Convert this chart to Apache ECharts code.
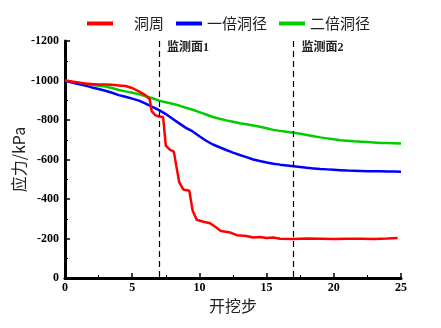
<!DOCTYPE html>
<html>
<head>
<meta charset="utf-8">
<script src="https://cdn.jsdelivr.net/npm/echarts@6/dist/echarts.min.js"></script>
<style>
html,body{margin:0;padding:0;background:#fff;}
#chart{width:441px;height:328px;}
</style>
</head>
<body>
<div id="chart"></div>
<script>
// Excavation steps and stress (kPa) around the tunnel
const redX = [0,0.5,1,1.5,2,2.5,3,3.5,4,4.5,5,5.5,6,6.3,6.45,6.7,7,7.3,7.5,7.8,8.1,8.3,8.5,8.8,9.25,9.5,9.8,10.3,10.8,11.2,11.6,12.3,12.8,13.5,14,14.5,15,15.5,16,17,18,19,20,21,22,23,24,24.75];
const redY = [-1000,-995,-990,-985,-982,-980,-980,-978,-975,-972,-962,-945,-925,-905,-845,-825,-818,-815,-670,-650,-640,-560,-485,-448,-442,-340,-295,-285,-277,-258,-238,-230,-217,-213,-205,-208,-202,-205,-199,-198,-200,-199,-198,-199,-199,-198,-200,-203];

const stepX = [0,0.5,1,1.5,2,2.5,3,3.5,4,4.5,5,5.5,6,6.5,7,7.5,8,8.5,9,9.5,10,10.5,11,11.5,12,12.5,13,13.5,14,14.5,15,15.5,16,16.5,17,17.5,18,18.5,19,19.5,20,20.5,21,21.5,22,22.5,23,23.5,24,24.5,25];
const blueY = [-1000,-990,-982,-974,-965,-957,-948,-938,-926,-918,-908,-898,-883,-866,-850,-830,-806,-783,-760,-742,-718,-695,-676,-662,-648,-635,-623,-612,-600,-592,-585,-579,-574,-570,-566,-562,-558,-555,-552,-550,-548,-546,-544,-543,-542,-541,-540,-540,-539,-539,-538];
const greenY = [-1000,-993,-987,-983,-978,-974,-969,-962,-952,-945,-938,-931,-920,-910,-898,-890,-882,-873,-862,-852,-840,-828,-815,-806,-798,-791,-784,-778,-772,-766,-758,-750,-745,-740,-736,-730,-724,-718,-712,-707,-702,-698,-695,-692,-690,-688,-686,-684,-683,-682,-681];

const seriesNames = ['洞周','一倍洞径','二倍洞径'];
const monitorX = [7, 17];
const monitorLabels = ['监测面1','监测面2'];
const yTicks = { min: -1200, max: 0, interval: 200 };
const xTicks = { min: 0, max: 25, interval: 5 };

const pairs = (xs, ys) => xs.map((x, i) => [x, ys[i]]);
const numFont = '"Liberation Serif", "Times New Roman", serif';
const cjkFont = '"Noto Sans CJK SC", sans-serif';

const chart = echarts.init(document.getElementById('chart'), null, { renderer: 'canvas' });

const axisCommon = {
  axisLine: { show: true, onZero: false, lineStyle: { color: '#000', width: 3 } },
  axisTick: { show: true, inside: true, length: 5, lineStyle: { color: '#000', width: 1.5 } },
  minorTick: { show: true, splitNumber: 2, length: 3, lineStyle: { color: '#000', width: 1 } },
  splitLine: { show: false },
  axisLabel: {
    color: '#000', fontFamily: numFont, fontWeight: 'bold', fontSize: 12,
    formatter: v => String(v)
  }
};

const lineSeries = (name, data, color, extra) => Object.assign({
  name, type: 'line', data, showSymbol: false, symbol: 'none',
  lineStyle: { color, width: 2.5 }, itemStyle: { color },
  animation: false
}, extra || {});

chart.setOption({
  animation: false,
  grid: { left: 65, right: 40, top: 41, bottom: 50, containLabel: false, outerBoundsMode: 'none' },
  legend: {
    top: 11, left: 82,
    itemWidth: 26, itemHeight: 4, itemGap: 12,
    icon: 'rect',
    data: seriesNames,
    formatter: n => n === '洞周' ? '{p|' + n + '}' : n,
    textStyle: {
      fontFamily: cjkFont, fontSize: 15, color: '#222',
      rich: { p: { fontFamily: cjkFont, fontSize: 15, color: '#222', padding: [0, 0, 0, 16] } }
    }
  },
  xAxis: Object.assign({}, axisCommon, {
    type: 'value', min: xTicks.min, max: xTicks.max, interval: xTicks.interval,
    name: '开挖步', nameLocation: 'middle', nameGap: 20, nameMoveOverlap: false,
    nameTextStyle: { fontFamily: cjkFont, fontSize: 16, color: '#222' },
    axisLabel: Object.assign({}, axisCommon.axisLabel, { margin: 4 })
  }),
  yAxis: Object.assign({}, axisCommon, {
    type: 'value', inverse: true, min: yTicks.min, max: yTicks.max, interval: yTicks.interval,
    name: '应力/kPa', nameLocation: 'middle', nameGap: 38, nameRotate: 90, nameMoveOverlap: false,
    nameTextStyle: { fontFamily: cjkFont, fontSize: 16, color: '#222' },
    axisLabel: Object.assign({}, axisCommon.axisLabel, { margin: 6 })
  }),
  series: [
    lineSeries(seriesNames[0], pairs(redX, redY), '#ff0000', { z: 3 }),
    lineSeries(seriesNames[1], pairs(stepX, blueY), '#0000ff', { z: 2 }),
    lineSeries(seriesNames[2], pairs(stepX, greenY), '#00cc00', {
      z: 1,
      markLine: {
        silent: true, symbol: 'none', animation: false,
        lineStyle: { color: '#000', width: 1.2, type: [6, 4] },
        label: { show: false },
        data: monitorX.map(x => ({ xAxis: x }))
      }
    })
  ]
});

// Monitoring-section labels next to the dashed lines
const topPx = chart.convertToPixel({ yAxisIndex: 0 }, yTicks.min);
chart.setOption({
  graphic: monitorX.map((x, i) => ({
    type: 'text',
    left: chart.convertToPixel({ xAxisIndex: 0 }, x) + 8,
    top: topPx + 1,
    style: {
      text: monitorLabels[i], fill: '#222',
      font: 'bold 12px "Liberation Serif", "Noto Sans CJK SC", serif'
    }
  }))
});
</script>
</body>
</html>
